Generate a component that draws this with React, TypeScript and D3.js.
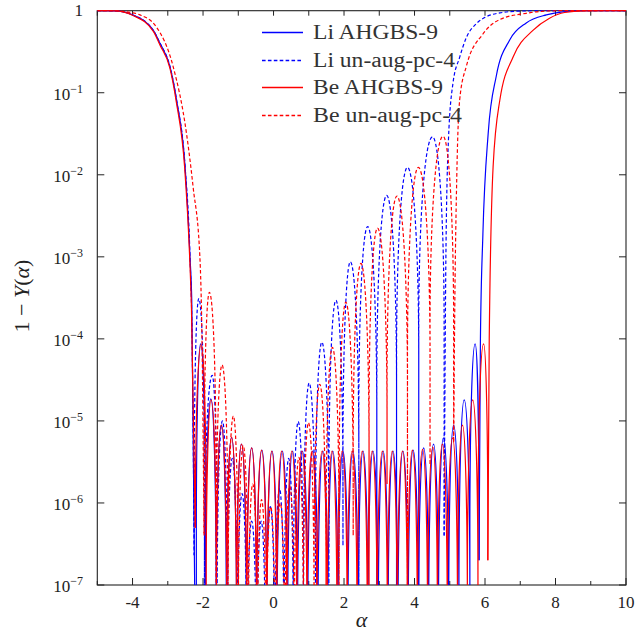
import React from 'react';
import * as d3 from 'd3';

type Pt = [number, number];

// 1 - Y(alpha). Each series: a left tail, the zeros between
// lobes ([alpha, sampled minimum], 1e-9 = below the axis), the lobe peaks and a right tail.
const OFF = 1e-9;

const liAhgbsLeft: Pt[] = [[-5, 1], [-4.5, 0.995], [-4.0, 0.89], [-3.41, 0.575], [-3.22, 0.4], [-2.94, 0.21], [-2.75, 0.081], [-2.51, 0.0126], [-2.37, 1e-3], [-2.32, 2.95e-4]];
const liAhgbsZeros: Pt[] = [[-2.19, OFF], [-1.93, OFF], [-1.63, OFF], [-1.34, OFF], [-1.05, OFF], [-0.77, OFF], [-0.48, OFF], [-0.19, OFF], [0.10, OFF], [0.40, OFF], [0.68, OFF], [0.97, OFF], [1.26, OFF], [1.54, OFF], [1.83, OFF], [2.11, OFF], [2.40, OFF], [2.68, OFF], [2.97, OFF], [3.25, OFF], [3.53, OFF], [3.82, OFF], [4.11, OFF], [4.40, OFF], [4.68, OFF], [4.97, OFF], [5.26, OFF], [5.57, OFF], [5.83, 2e-7]];
const liAhgbsPeaks: Pt[] = [[-2.07, 8.7e-5], [-1.78, 1.86e-5], [-1.48, 8.9e-6], [-1.19, 6.3e-6], [-0.91, 5.2e-6], [-0.62, 4.7e-6], [-0.33, 4.4e-6], [-0.04, 4.3e-6], [0.25, 4.3e-6], [0.54, 4.3e-6], [0.82, 4.3e-6], [1.11, 4.3e-6], [1.40, 4.3e-6], [1.68, 4.3e-6], [1.97, 4.3e-6], [2.25, 4.3e-6], [2.54, 4.3e-6], [2.82, 4.3e-6], [3.11, 4.3e-6], [3.39, 4.3e-6], [3.67, 4.3e-6], [3.96, 4.4e-6], [4.26, 4.7e-6], [4.54, 5.2e-6], [4.82, 6.2e-6], [5.11, 8.9e-6], [5.41, 1.8e-5], [5.72, 8.7e-5]];
const liAhgbsRight: Pt[] = [[5.87, 1e-4], [5.94, 1.9e-3], [6.09, 3.2e-2], [6.32, 0.16], [6.70, 0.44], [7.17, 0.71], [7.74, 0.89], [8.2, 0.97], [8.8, 0.998], [10, 1]];

const liPcLeft: Pt[] = [[-5, 1], [-4.5, 0.995], [-4.0, 0.89], [-3.41, 0.575], [-3.22, 0.4], [-2.94, 0.21], [-2.75, 0.081], [-2.51, 0.0126], [-2.37, 1e-3], [-2.31, 1e-4]];
const liPcZeros: Pt[] = [[-2.25, 2.3e-7], [-1.96, OFF], [-1.60, OFF], [-1.31, OFF], [-1.03, OFF], [-0.76, OFF], [-0.48, OFF], [-0.22, OFF], [0.04, OFF], [0.30, OFF], [0.56, OFF], [0.85, OFF], [1.19, OFF], [1.57, OFF], [1.97, 3e-7], [2.42, OFF], [2.93, OFF], [3.49, OFF], [4.12, OFF], [4.84, 4e-7]];
const liPcPeaks: Pt[] = [[-2.12, 3.1e-4], [-1.74, 3.6e-5], [-1.45, 1.0e-5], [-1.17, 3.5e-6], [-0.89, 1.3e-6], [-0.62, 6e-7], [-0.35, 6e-7], [-0.09, 9e-7], [0.17, 1.5e-6], [0.43, 3.5e-6], [0.70, 9.8e-6], [1.01, 2.9e-5], [1.37, 9.1e-5], [1.77, 2.95e-4], [2.18, 8.7e-4], [2.67, 2.34e-3], [3.21, 5.6e-3], [3.80, 1.23e-2], [4.51, 2.9e-2]];
const liPcRight: Pt[] = [[4.89, 1e-3], [4.96, 2.5e-2], [5.09, 0.13], [5.28, 0.27], [5.47, 0.47], [5.76, 0.70], [6.0, 0.83], [6.42, 0.94], [7.0, 0.99], [7.6, 1], [10, 1]];

const beAhgbsLeft: Pt[] = [[-5, 1], [-4.5, 0.995], [-4.0, 0.88], [-3.41, 0.56], [-3.22, 0.38], [-2.94, 0.2], [-2.76, 0.078], [-2.52, 0.012], [-2.38, 1e-3], [-2.33, 2.5e-4]];
const beAhgbsZeros: Pt[] = [[-2.22, 5e-7], [-1.91, OFF], [-1.62, OFF], [-1.33, OFF], [-1.05, OFF], [-0.76, OFF], [-0.48, OFF], [-0.19, OFF], [0.09, OFF], [0.38, OFF], [0.66, OFF], [0.95, OFF], [1.23, OFF], [1.52, OFF], [1.80, OFF], [2.09, OFF], [2.37, OFF], [2.66, OFF], [2.94, OFF], [3.23, OFF], [3.51, OFF], [3.80, OFF], [4.08, OFF], [4.37, OFF], [4.65, OFF], [4.93, OFF], [5.22, OFF], [5.50, OFF], [5.80, OFF], [6.08, 2e-7]];
const beAhgbsPeaks: Pt[] = [[-2.05, 8.5e-5], [-1.77, 1.8e-5], [-1.48, 8.9e-6], [-1.19, 6.3e-6], [-0.91, 5.2e-6], [-0.62, 4.7e-6], [-0.34, 4.4e-6], [-0.05, 4.3e-6], [0.23, 4.3e-6], [0.52, 4.3e-6], [0.80, 4.3e-6], [1.09, 4.3e-6], [1.38, 4.3e-6], [1.66, 4.3e-6], [1.95, 4.3e-6], [2.23, 4.3e-6], [2.52, 4.3e-6], [2.80, 4.3e-6], [3.09, 4.3e-6], [3.37, 4.3e-6], [3.66, 4.3e-6], [3.94, 4.4e-6], [4.23, 4.5e-6], [4.52, 4.8e-6], [4.79, 5.2e-6], [5.08, 6.2e-6], [5.36, 8.9e-6], [5.65, 1.8e-5], [5.96, 8.7e-5]];
const beAhgbsRight: Pt[] = [[6.12, 1e-4], [6.23, 1.26e-2], [6.42, 8.1e-2], [6.80, 0.275], [7.36, 0.575], [7.83, 0.81], [8.26, 0.95], [8.8, 0.995], [10, 1]];

const bePcLeft: Pt[] = [[-5, 1], [-4.5, 0.998], [-4.2, 0.97], [-3.79, 0.89], [-3.32, 0.63], [-2.85, 0.21], [-2.47, 0.032], [-2.28, 7e-3], [-2.09, 1e-3], [-2.03, 1e-4]];
const bePcZeros: Pt[] = [[-1.97, 4e-7], [-1.63, OFF], [-1.29, OFF], [-1.00, OFF], [-0.72, OFF], [-0.46, OFF], [-0.21, OFF], [0.05, OFF], [0.32, OFF], [0.59, OFF], [0.85, OFF], [1.15, OFF], [1.49, OFF], [1.86, OFF], [2.26, 4e-7], [2.71, OFF], [3.22, 1.7e-6], [3.80, OFF], [4.44, 2.9e-6], [5.11, 5.5e-6]];
const bePcPeaks: Pt[] = [[-1.82, 3.7e-4], [-1.46, 4.8e-5], [-1.14, 1.15e-5], [-0.86, 5e-6], [-0.59, 1.7e-6], [-0.34, 1.1e-6], [-0.08, 9e-7], [0.19, 1.0e-6], [0.46, 1.6e-6], [0.72, 3.6e-6], [0.99, 9.5e-6], [1.31, 2.8e-5], [1.67, 7.9e-5], [2.05, 2.8e-4], [2.48, 8.3e-4], [2.95, 2.24e-3], [3.50, 5.5e-3], [4.11, 1.23e-2], [4.81, 2.95e-2]];
const bePcRight: Pt[] = [[5.14, 2e-4], [5.2, 1e-2], [5.28, 8.1e-2], [5.47, 0.21], [5.94, 0.52], [6.42, 0.78], [7.17, 0.93], [7.7, 0.99], [8.2, 1], [10, 1]];

const series = [
  { name: 'Li AHGBS-9', color: '#0000ff', dash: 'none', left: liAhgbsLeft, zeros: liAhgbsZeros, peaks: liAhgbsPeaks, right: liAhgbsRight, width: 125 },
  { name: 'Li un-aug-pc-4', color: '#0000ff', dash: '3.6,2.3', left: liPcLeft, zeros: liPcZeros, peaks: liPcPeaks, right: liPcRight, width: 142 },
  { name: 'Be AHGBS-9', color: '#ff0000', dash: 'none', left: beAhgbsLeft, zeros: beAhgbsZeros, peaks: beAhgbsPeaks, right: beAhgbsRight, width: 130 },
  { name: 'Be un-aug-pc-4', color: '#ff0000', dash: '3.6,2.3', left: bePcLeft, zeros: bePcZeros, peaks: bePcPeaks, right: bePcRight, width: 149 },
];

const W = 636;
const H = 631;
const margin = { top: 10.7, right: 10, bottom: 46, left: 97.3 };
const lobeDepth = 2.3; // decades: vertical radius of each lobe's arch

export default function App() {
  const x = d3.scaleLinear().domain([-5, 10]).range([margin.left, W - margin.right]);
  const y = d3.scaleLog().domain([1e-7, 1]).range([H - margin.bottom, margin.top]);
  const [x0, x1] = x.range();
  const [y0, y1] = y.range();

  const tail = d3.line<Pt>().x(d => x(d[0])).y(d => y(d[1])).curve(d3.curveMonotoneX);

  // arch for every lobe: vertical drop at the zeros, elliptic top through the peak
  const lobes = (zeros: Pt[], peaks: Pt[]) => {
    let d = '';
    peaks.forEach(([pa, pv], i) => {
      const [za, zv] = zeros[i];
      const [zb, zw] = zeros[i + 1];
      const top = y(pv);
      const jl = y(pv / 10 ** Math.min(lobeDepth, Math.log10(pv / zv)));
      const jr = y(pv / 10 ** Math.min(lobeDepth, Math.log10(pv / zw)));
      d += `${i === 0 ? 'M' : 'L'}${x(za)},${y(zv)}L${x(za)},${jl}`;
      d += `A${x(pa) - x(za)},${jl - top} 0 0 1 ${x(pa)},${top}`;
      d += `A${x(zb) - x(pa)},${jr - top} 0 0 1 ${x(zb)},${jr}L${x(zb)},${y(zw)}`;
    });
    return d;
  };

  const xMajor = x.ticks(8);
  const xMinor = x.ticks(15).filter(t => !xMajor.includes(t));
  const yTicks = d3.range(-7, 1).map(k => 10 ** k);

  return (
    <svg width={W} height={H} style={{ position: 'absolute', left: 0, top: 0, background: '#fff' }}
      fontFamily="'Liberation Serif', serif">
      <defs>
        <clipPath id="plot">
          <rect x={x0} y={y1 - 1.5} width={x1 - x0 + 1.5} height={y0 - y1 + 1.5} />
        </clipPath>
      </defs>

      <rect x={x0} y={y1} width={x1 - x0} height={y0 - y1} fill="none" stroke="#222" strokeWidth={1.1} />
      <g stroke="#222" strokeWidth={1}>
        {xMajor.map(t => <line key={'b' + t} x1={x(t)} x2={x(t)} y1={y0} y2={y0 - 7} />)}
        {xMinor.map(t => <line key={'m' + t} x1={x(t)} x2={x(t)} y1={y0} y2={y0 - 4} />)}
        {[...xMajor, ...xMinor].map(t => <line key={'t' + t} x1={x(t)} x2={x(t)} y1={y1} y2={y1 + 5} />)}
        {yTicks.map(t => (
          <g key={t}>
            <line x1={x0} x2={x0 + 7} y1={y(t)} y2={y(t)} />
            <line x1={x1} x2={x1 - 7} y1={y(t)} y2={y(t)} />
          </g>
        ))}
      </g>

      <g fill="#222" fontSize={17}>
        {xMajor.map(t => (
          <text key={t} x={x(t)} y={608} textAnchor="middle">{t}</text>
        ))}
        {yTicks.map(t => {
          const k = Math.round(Math.log10(t));
          return k === 0 ? (
            <text key={t} x={83} y={y(t) + 5.5} textAnchor="end">1</text>
          ) : (
            <text key={t} x={83} y={y(t) + 7.3} textAnchor="end">
              10<tspan dy={-7} fontSize={12}>{'\u2212' + -k}</tspan>
            </text>
          );
        })}
      </g>

      <text x={(x0 + x1) / 2} y={627} textAnchor="middle" fontSize={22} fontStyle="italic" fill="#222">α</text>
      <text transform="translate(29,296) rotate(-90)" textAnchor="middle" fontSize={22} fill="#222">
        1 − <tspan fontStyle="italic">Y</tspan>(<tspan fontStyle="italic">α</tspan>)
      </text>

      <g clipPath="url(#plot)" fill="none" strokeWidth={1.2}>
        {series.map(s => (
          <g key={s.name} stroke={s.color} strokeDasharray={s.dash}>
            <path d={tail([...s.left, s.zeros[0]]) ?? ''} />
            <path d={lobes(s.zeros, s.peaks)} />
            <path d={tail([s.zeros[s.zeros.length - 1], ...s.right]) ?? ''} />
          </g>
        ))}
      </g>

      <g>
        {series.map((s, i) => {
          const row = Math.round(31.7 + i * 27.8) + 0.5;
          return (
            <g key={s.name}>
              <path d={`M262,${row}H303`} stroke={s.color} strokeWidth={1.3} strokeDasharray={s.dash} fill="none" />
              <text x={313} y={row + 6.6} fontSize={20} fill="#333" textLength={s.width} lengthAdjust="spacingAndGlyphs">{s.name}</text>
            </g>
          );
        })}
      </g>
    </svg>
  );
}
